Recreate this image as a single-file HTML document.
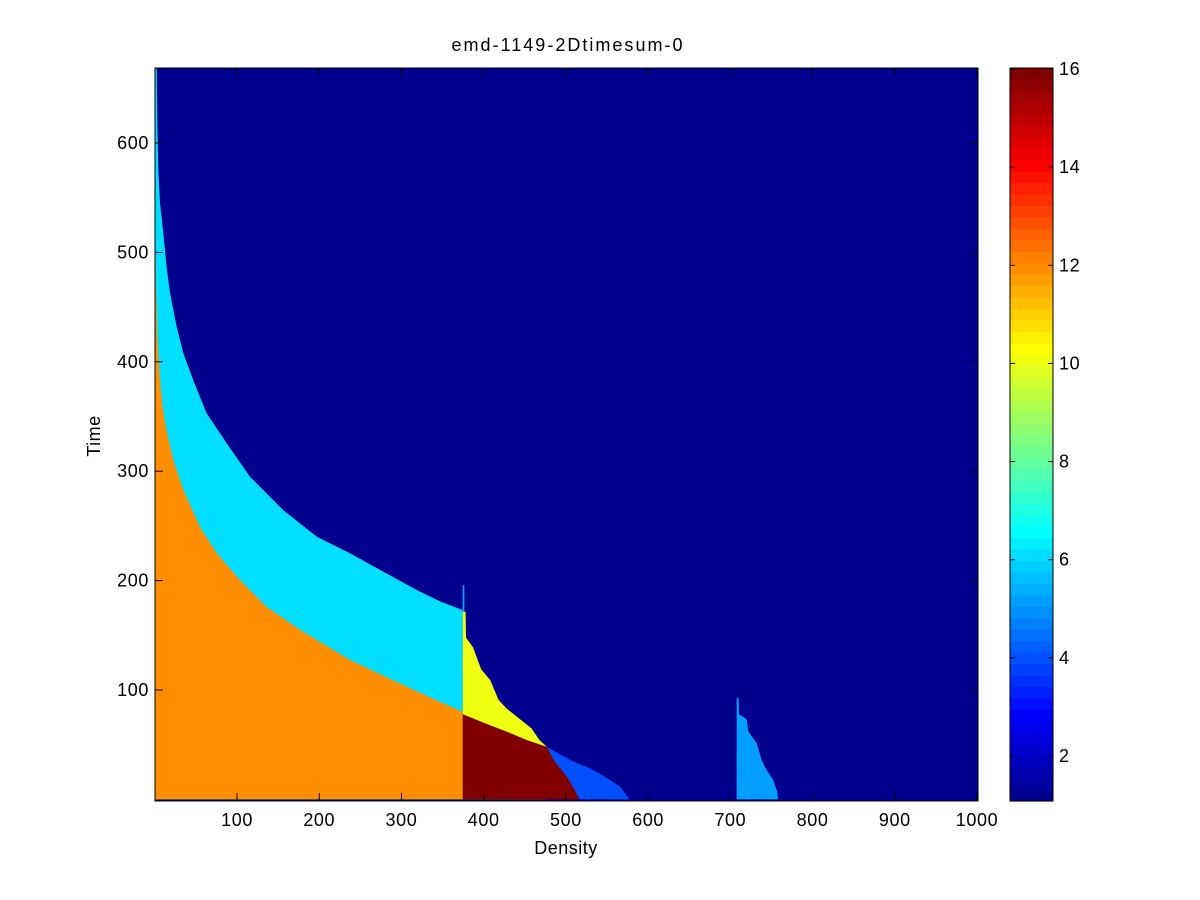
<!DOCTYPE html>
<html><head><meta charset="utf-8"><style>
body{margin:0;background:#fff;}
svg{display:block;font-family:"Liberation Sans",sans-serif;}
.tk{letter-spacing:0.6px;}
</style></head><body>
<svg id="fig" width="1200" height="900" xmlns="http://www.w3.org/2000/svg">
<rect width="1200" height="900" fill="#fff"/>
<text x="567" y="51" text-anchor="middle" font-size="18" textLength="231" lengthAdjust="spacing">emd-1149-2Dtimesum-0</text>
<text x="566" y="854" text-anchor="middle" font-size="18" letter-spacing="0.5">Density</text>
<text transform="translate(100,436) rotate(-90)" text-anchor="middle" font-size="18" letter-spacing="0.5">Time</text>
<defs><clipPath id="pc"><rect x="155" y="68" width="823" height="733"/></clipPath></defs>
<g id="plot" clip-path="url(#pc)"></g>
<g id="axes"></g>
<g id="cbar"></g>
</svg>
<script>
// data arrays
const xTicks=[100,200,300,400,500,600,700,800,900,1000];
const yTicks=[100,200,300,400,500,600];
const cbTicks=[2,4,6,8,10,12,14,16];
const bgValue=1;
const cyanValue=6.0, orangeValue=12.0, yellowValue=10.0, redValue=16, blueValue=4, lightBlueValue=5.2;
const bX=[0.5,2.3,3.1,4.3,6.3,10.3,14.4,18.5,26.6,34.7,46.8,63,87.4,115.8,156,197,237.4,278,318.5,347,374.5];
const bY=[668.5,668,621,575,545,518,487,463,432,408,383,353,325.5,295,264.5,240,225,208,191.4,181,173];
const aX=[0.5,1.5,3,6,10,14.4,22.5,34.7,55,75.3,103.6,136,176.6,237.4,298,347,374.5];
const aY=[512,468,423,386,356,337,310,283,249,225,200.5,176,155,127.4,106,89,80];
const dX=[374.5,378,378.5,387,397,408,418,428,448,458,468,477];
const dY=[171.5,171.5,148,139,119,109,91,83,71,65,54,48];
const cX=[374.5,400,428,453,477];
const cY=[78,70,62,54,48];
const rX=[477,485,501,517];
const rY=[48,36,21,0];
const eX=[477,509,529,550,566,575,577];
const eY=[48,34.5,28.5,19.5,11.6,2.5,0];
const fX=[707.7,710,710.5,720,722,732,738,744,752,757,758];
const fY=[93,93,78,73,62,51.5,36,27,18,7,0];
const spikeX=[374.5,376.5];
const spikeTop=196;

const NS="http://www.w3.org/2000/svg";
const xS=x=>154.8+x*0.82222;
const yS=y=>799.4-y*1.094;
const cl=v=>Math.max(0,Math.min(1,v));
function jet(v){let i=Math.max(0,Math.min(63,Math.floor((v-1)/15*64)));let t=(i+1)/64;
 const r=cl(1.5-Math.abs(4*t-3)),g=cl(1.5-Math.abs(4*t-2)),b=cl(1.5-Math.abs(4*t-1));
 return `rgb(${Math.round(r*255)},${Math.round(g*255)},${Math.round(b*255)})`;}
function mk(tag,attrs,parent){const e=document.createElementNS(NS,tag);for(const k in attrs)e.setAttribute(k,attrs[k]);parent.appendChild(e);return e;}
function poly(pts,v,name){const p=mk('polygon',{points:pts.map(q=>xS(q[0]).toFixed(1)+','+yS(q[1]).toFixed(1)).join(' '),fill:jet(v)},plot);
 
 }
const plot=document.getElementById('plot');
const bg=mk('rect',{x:155,y:68,width:823,height:733,fill:jet(bgValue)},plot);


const under=(xs,ys)=>xs.map((x,i)=>[x,ys[i]]);
poly([[0,0],[0,bY[0]],...under(bX,bY),[bX[bX.length-1],0]],cyanValue,'cyan-region');
poly([[0,0],[0,aY[0]],...under(aX,aY),[aX[aX.length-1],0]],orangeValue,'orange-region');
poly([[spikeX[0],0],[spikeX[0],spikeTop],[spikeX[1],spikeTop],[spikeX[1],0]],lightBlueValue,'spike-region');
poly([[eX[0],0],...under(eX,eY)],blueValue,'blue-region');
poly([[dX[0],0],...under(dX,dY),[dX[dX.length-1],0]],yellowValue,'yellow-region');
poly([[cX[0],0],...under(cX,cY),...under(rX,rY)],redValue,'red-region');
poly([[fX[0],0],...under(fX,fY)],lightBlueValue,'light-blue-region');

const ax=document.getElementById('axes');
const frame=mk('rect',{x:155,y:68,width:823,height:733,fill:'none',stroke:'#000','stroke-width':1},ax);


xTicks.forEach(t=>{const x=xS(t);
 mk('line',{x1:x,x2:x,y1:801,y2:793,stroke:'#000'},ax);mk('line',{x1:x,x2:x,y1:68,y2:76,stroke:'#000'},ax);
 const l=mk('text',{x:x,y:826,'text-anchor':'middle','font-size':18,'class':'tk'},ax);l.textContent=t;
 
 });
yTicks.forEach(t=>{const y=yS(t);
 mk('line',{x1:155,x2:163,y1:y,y2:y,stroke:'#000'},ax);mk('line',{x1:978,x2:970,y1:y,y2:y,stroke:'#000'},ax);
 const l=mk('text',{x:149,y:y+6,'text-anchor':'end','font-size':18,'class':'tk'},ax);l.textContent=t;
 
 });

const cb=document.getElementById('cbar');
const cbTop=68,cbBot=801,cbL=1010,cbW=43;
for(let i=0;i<64;i++){const h=(cbBot-cbTop)/64;
 const r=mk('rect',{x:cbL,y:cbBot-(i+1)*h,width:cbW,height:h+0.6,fill:jet(1+(i+0.5)*15/64)},cb);
 
 }
mk('rect',{x:cbL,y:cbTop,width:cbW,height:cbBot-cbTop,fill:'none',stroke:'#000'},cb);
const cbY=v=>756-(v-2)*49.07;
cbTicks.forEach(t=>{const y=cbY(t);
 mk('line',{x1:cbL,x2:cbL+5,y1:y,y2:y,stroke:'#000'},cb);mk('line',{x1:cbL+cbW,x2:cbL+cbW-5,y1:y,y2:y,stroke:'#000'},cb);
 const l=mk('text',{x:1059,y:y+6,'font-size':18,'class':'tk'},cb);l.textContent=t;
 
 });
</script>
</body></html>
